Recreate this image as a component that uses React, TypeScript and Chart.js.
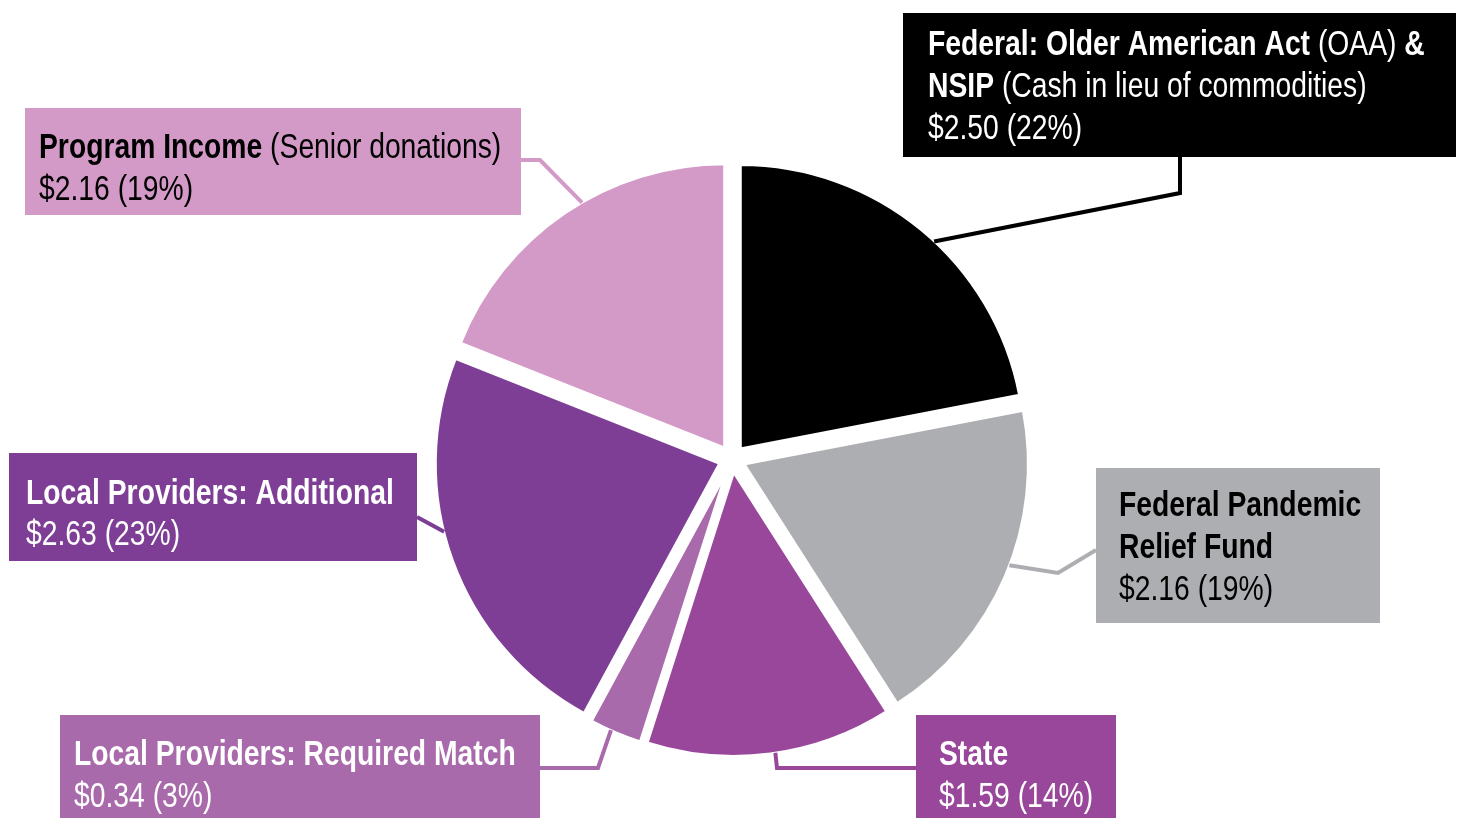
import React, { useEffect, useRef } from "react";
import { Chart, registerables } from "chart.js";

Chart.register(...registerables);

const categories = [
  "Federal: Older American Act (OAA) & NSIP",
  "Federal Pandemic Relief Fund",
  "State",
  "Local Providers: Required Match",
  "Local Providers: Additional",
  "Program Income",
];
const values = [2.5, 2.16, 1.59, 0.34, 2.63, 2.16];
const percents = [22, 19, 14, 3, 23, 19];
const colors = ["#000000", "#ADAEB2", "#99479B", "#A96AAB", "#7E3E96", "#D49AC7"];
const textColors = ["#FFFFFF", "#000000", "#FFFFFF", "#FFFFFF", "#FFFFFF", "#000000"];

type Seg = { t: string; b: boolean };
const titleLines: Seg[][][] = [
  [
    [
      { t: "Federal: Older American Act", b: true },
      { t: " (OAA) ", b: false },
      { t: "&", b: true },
    ],
    [
      { t: "NSIP", b: true },
      { t: " (Cash in lieu of commodities)", b: false },
    ],
  ],
  [[{ t: "Federal Pandemic", b: true }], [{ t: "Relief Fund", b: true }]],
  [[{ t: "State", b: true }]],
  [[{ t: "Local Providers: Required Match", b: true }]],
  [[{ t: "Local Providers: Additional", b: true }]],
  [
    [
      { t: "Program Income", b: true },
      { t: " (Senior donations)", b: false },
    ],
  ],
];

// layout of annotation boxes (pixels)
const boxes = [
  { x: 903, y: 13, w: 553, h: 144, tx: 928, cy: [42, 84, 126], elbows: [[1180, 157], [1180, 193]], dAng: 3.5 },
  { x: 1096, y: 468, w: 284, h: 155, tx: 1119, cy: [503, 545, 587], elbows: [[1096, 550], [1058, 573]], dAng: -2.4 },
  { x: 916, y: 715, w: 200, h: 103, tx: 939, cy: [752, 794], elbows: [[916, 768], [777, 768]], dAng: -1 },
  { x: 60, y: 715, w: 480, h: 103, tx: 74, cy: [752, 794], elbows: [[540, 768], [598, 768]], dAng: 1 },
  { x: 9, y: 453, w: 408, h: 108, tx: 26, cy: [491, 532], elbows: [[417, 517]], dAng: 6 },
  { x: 25, y: 108, w: 496, h: 107, tx: 39, cy: [145, 187], elbows: [[521, 160], [540, 160]], dAng: 4 },
];

const FONT_SIZE = 34.5;
const BORDER = 3;
const EXPLODE = 13;

function fontAvailable(ctx: CanvasRenderingContext2D, name: string) {
  ctx.font = `40px "${name}", monospace`;
  const a = ctx.measureText("Local Providers: Additional").width;
  ctx.font = `40px monospace`;
  const b = ctx.measureText("Local Providers: Additional").width;
  return Math.abs(a - b) > 0.5;
}

const explodePlugin = {
  id: "explode",
  beforeDatasetsDraw(chart: any) {
    const meta = chart.getDatasetMeta(0);
    meta.data.forEach((arc: any) => {
      if (arc.__exploded) return;
      const orig = arc.draw;
      arc.draw = function (ctx: CanvasRenderingContext2D, area: any) {
        const half = (this.startAngle + this.endAngle) / 2;
        ctx.save();
        ctx.translate(Math.cos(half) * EXPLODE, Math.sin(half) * EXPLODE);
        orig.call(this, ctx, area);
        ctx.restore();
      };
      arc.__exploded = true;
    });
  },
};

const labelPlugin = {
  id: "boxLabels",
  afterDatasetsDraw(chart: any) {
    const ctx: CanvasRenderingContext2D = chart.ctx;
    const meta = chart.getDatasetMeta(0);
    const narrow = fontAvailable(ctx, "Liberation Sans Narrow");
    const family = narrow ? '"Liberation Sans Narrow"' : '"Liberation Sans", Arial, sans-serif';
    const sx = narrow ? 1 : 0.82;
    ctx.save();
    // leader lines
    meta.data.forEach((arc: any, i: number) => {
      const bx = boxes[i];
      const p = arc.getProps(["x", "y", "startAngle", "endAngle", "outerRadius"], true);
      const half = (p.startAngle + p.endAngle) / 2;
      const ox = p.x + Math.cos(half) * EXPLODE;
      const oy = p.y + Math.sin(half) * EXPLODE;
      const ang = half + (bx.dAng * Math.PI) / 180;
      const r = p.outerRadius - BORDER / 2 + 1;
      const ex = ox + Math.cos(ang) * r;
      const ey = oy + Math.sin(ang) * r;
      ctx.beginPath();
      ctx.strokeStyle = colors[i];
      ctx.lineWidth = 4;
      ctx.lineJoin = "miter";
      ctx.moveTo(bx.elbows[0][0], bx.elbows[0][1]);
      for (let k = 1; k < bx.elbows.length; k++) ctx.lineTo(bx.elbows[k][0], bx.elbows[k][1]);
      ctx.lineTo(ex, ey);
      ctx.stroke();
    });
    // boxes and text
    boxes.forEach((bx, i) => {
      ctx.fillStyle = colors[i];
      ctx.fillRect(bx.x, bx.y, bx.w, bx.h);
      const lines: Seg[][] = [
        ...titleLines[i],
        [{ t: `$${values[i].toFixed(2)} (${percents[i]}%)`, b: false }],
      ];
      ctx.fillStyle = textColors[i];
      ctx.textBaseline = "middle";
      ctx.textAlign = "left";
      lines.forEach((line, li) => {
        let x = 0;
        ctx.save();
        ctx.translate(bx.tx, bx.cy[li]);
        ctx.scale(sx, 1);
        line.forEach((s) => {
          ctx.font = `${s.b ? "bold " : ""}${FONT_SIZE}px ${family}`;
          ctx.fillText(s.t, x, 3);
          x += ctx.measureText(s.t).width;
        });
        ctx.restore();
      });
    });
    ctx.restore();
  },
};

export default function App() {
  const ref = useRef<HTMLCanvasElement>(null);
  useEffect(() => {
    document.body.style.margin = "0";
    const cx = 732;
    const cy = 459;
    const R = 284.5;
    const chart = new Chart(ref.current!, {
      type: "pie",
      data: {
        labels: categories,
        datasets: [
          {
            data: values,
            backgroundColor: colors,
            borderColor: "#FFFFFF",
            borderWidth: BORDER,
          },
        ],
      },
      options: {
        responsive: false,
        animation: false,
        devicePixelRatio: 1,
        radius: R,
        layout: {
          padding: {
            left: cx - 300,
            right: 1460 - (cx + 300),
            top: cy - 300,
            bottom: 818 - (cy + 300),
          },
        },
        plugins: {
          legend: { display: false },
          tooltip: { enabled: false },
        },
      } as any,
      plugins: [explodePlugin, labelPlugin],
    });
    return () => chart.destroy();
  }, []);
  return (
    <div style={{ width: 1460, height: 818, background: "#fff" }}>
      <canvas ref={ref} width={1460} height={818} style={{ width: 1460, height: 818, display: "block" }} />
    </div>
  );
}
